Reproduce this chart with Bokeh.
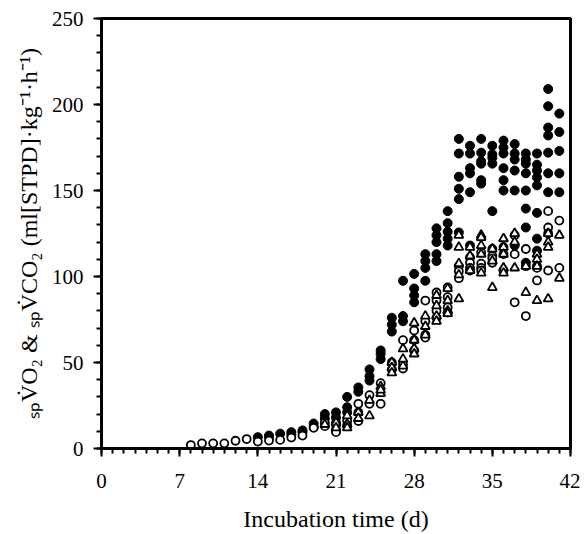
from bokeh.plotting import figure
from bokeh.models import Range1d, FixedTicker
from bokeh.embed import file_html
from bokeh.resources import INLINE

# ---- data ----
filled_days = {
    14: [6.6], 15: [7.5, 6.6], 16: [8.6], 17: [9.5, 8], 18: [10.5, 9.5],
    19: [14.5, 12.5], 20: [20, 17.5], 21: [21, 18, 14], 22: [30, 24, 21],
    23: [35.5, 33], 24: [46, 42, 39.5], 25: [57, 55, 52], 26: [76, 72, 68],
    27: [97.5, 77, 74], 28: [101.5, 93, 89, 85], 29: [113, 109, 105, 97.5],
    30: [128, 124, 120, 113, 109], 31: [138, 131, 126, 122, 118],
    32: [180, 171.5, 158, 151, 145, 125.6], 33: [176, 171.5, 163, 160, 149, 118],
    34: [180, 172, 167, 165.6, 156, 154], 35: [176, 171, 169, 165.6, 138],
    36: [179, 175, 171.5, 163, 156, 150], 37: [177, 171.5, 168, 161.6, 150, 118],
    38: [171.5, 168, 165.6, 160, 150, 139.5, 128.5, 108],
    39: [171.5, 165, 161.6, 157.6, 153, 137, 122, 115],
    40: [209, 199, 186.6, 182, 172, 160, 149], 41: [194.7, 184, 173, 160, 149],
}
open_days = {
    8: [2], 9: [3], 10: [3], 11: [3], 12: [4.5], 13: [5.5], 14: [4], 15: [4.6],
    16: [5], 17: [6.4], 18: [7.5], 19: [12], 20: [15, 13], 21: [15, 11, 9.5],
    22: [16, 13.4], 23: [26, 21, 16], 24: [31, 26], 25: [38, 26], 26: [50, 46],
    27: [63, 49, 46.5], 28: [68.6, 63, 57], 29: [86, 74, 66, 64.5],
    30: [90.7, 86, 80, 76], 31: [93.6, 88, 82, 79], 32: [106, 103, 99],
    33: [111, 108, 105, 103.5], 34: [114, 107.5, 105, 103.5],
    35: [116, 112, 110.5, 108], 36: [117, 113, 103.5], 37: [124, 113, 85],
    38: [116, 106, 77], 39: [106, 105, 97.7], 40: [138, 128.5, 125, 103.5],
    41: [132.5, 105],
}
tri_days = {
    20: [14], 21: [15, 12], 22: [19, 14, 12], 23: [21, 17.5], 24: [19, 28],
    25: [32, 36, 34], 26: [50, 47, 44], 27: [58, 48, 52], 28: [73, 63, 58, 55],
    29: [77, 71, 66], 30: [89, 83, 77, 74], 31: [93, 86, 80, 78.5],
    32: [124, 117, 107.5, 101, 87], 33: [117, 112, 103.5],
    34: [124, 122.7, 118, 113, 102], 35: [116, 109, 93.6],
    36: [122, 117, 113, 105, 102], 37: [125, 120, 105], 38: [106, 90.7],
    39: [113, 110, 106, 86], 40: [125, 120, 117, 87], 41: [124, 99],
}
x_ticks = [0, 7, 14, 21, 28, 35, 42]
y_ticks = [0, 50, 100, 150, 200, 250]


def flatten(d):
    xs, ys = [], []
    for k, vals in d.items():
        for v in vals:
            xs.append(k)
            ys.append(v)
    return xs, ys


FONT = "Liberation Serif"

p = figure(output_backend="svg", toolbar_location=None,
           frame_width=469, frame_height=430,
           min_border_left=101, min_border_top=18, min_border_right=10, min_border_bottom=82,
           x_range=Range1d(0, 42), y_range=Range1d(0, 250))

p.xgrid.visible = False
p.ygrid.visible = False
p.outline_line_color = "black"
p.outline_line_width = 3
p.outline_line_alpha = 1

p.xaxis.ticker = FixedTicker(ticks=x_ticks, minor_ticks=list(range(0, 43)))
p.yaxis.ticker = FixedTicker(ticks=y_ticks, minor_ticks=list(range(0, 251, 10)))

for ax in (p.xaxis, p.yaxis):
    ax.axis_line_width = 3
    ax.axis_line_color = "black"
    ax.major_tick_line_width = 2
    ax.minor_tick_line_width = 2
    ax.major_tick_line_color = "black"
    ax.minor_tick_line_color = "black"
    ax.major_tick_in = 0
    ax.major_tick_out = 8
    ax.minor_tick_in = 0
    ax.minor_tick_out = 5
    ax.major_label_text_font = FONT
    ax.major_label_text_font_size = "21px"
    ax.major_label_text_color = "black"
    ax.axis_label_text_font = FONT
    ax.axis_label_text_font_style = "normal"
    ax.axis_label_text_color = "black"
    ax.axis_label_text_font_size = "24px"

p.xaxis.major_label_standoff = 17
p.yaxis.major_label_standoff = 10
p.xaxis.axis_label = "Incubation time (d)"
p.xaxis.axis_label_standoff = 15
p.yaxis.axis_label = "\u209b\u209aV\u0307O\u2082 & \u209b\u209aV\u0307CO\u2082 (ml[STPD]\u00b7kg\u207b\u00b9\u00b7h\u207b\u00b9)"
p.yaxis.axis_label_standoff = 7

fx, fy = flatten(filled_days)
ox, oy = flatten(open_days)
tx, ty = flatten(tri_days)

p.scatter(x=fx, y=fy, marker="circle", size=9, fill_color="black", line_color="black")
p.scatter(x=ox, y=oy, marker="circle", size=8, fill_color="white", line_color="black", line_width=1.8)
p.scatter(x=tx, y=ty, marker="triangle", size=9, fill_color="white", line_color="black", line_width=1.8)

open("out.html", "w").write(file_html(p, INLINE))
